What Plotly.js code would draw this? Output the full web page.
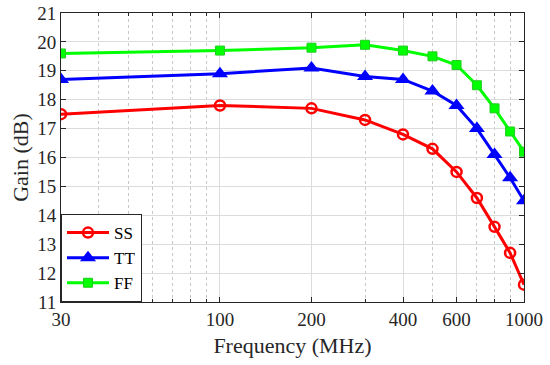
<!DOCTYPE html>
<html>
<head>
<meta charset="utf-8">
<script src="https://cdn.plot.ly/plotly-3.0.1.min.js"></script>
<style>html,body{margin:0;padding:0;background:#fff;}#chart{width:550px;height:365px;}</style>
</head>
<body>
<div id="chart"></div>
<script>
var freq = [30, 100, 200, 300, 400, 500, 600, 700, 800, 900, 1000];
var gainSS = [17.5, 17.8, 17.7, 17.3, 16.8, 16.3, 15.5, 14.6, 13.6, 12.7, 11.6];
var gainTT = [18.7, 18.9, 19.1, 18.8, 18.7, 18.3, 17.8, 17.0, 16.1, 15.3, 14.5];
var gainFF = [19.6, 19.7, 19.8, 19.9, 19.7, 19.5, 19.2, 18.5, 17.7, 16.9, 16.2];
var xTicks = [30, 100, 200, 400, 600, 1000];
var xMinor = [40, 50, 60, 70, 80, 90, 300, 500, 700, 800, 900];
var yTicks = [11, 12, 13, 14, 15, 16, 17, 18, 19, 20, 21];

var font = "'Liberation Serif', 'Times New Roman', serif";
var traces = [
  {x: freq, y: gainSS, name: 'SS', mode: 'lines+markers', type: 'scatter',
   line: {color: '#ff0000', width: 3},
   marker: {symbol: 'circle-open', size: 10, color: '#ff0000', line: {width: 2.5, color: '#ff0000'}}},
  {x: freq, y: gainTT, name: 'TT', mode: 'lines+markers', type: 'scatter',
   line: {color: '#0000ff', width: 3},
   marker: {symbol: 'triangle-up', size: 14, color: '#0000ff'}},
  {x: freq, y: gainFF, name: 'FF', mode: 'lines+markers', type: 'scatter',
   line: {color: '#00ff00', width: 3},
   marker: {symbol: 'square', size: 9, color: '#00ff00', line: {width: 1, color: '#22cc22'}}}
];
var layout = {
  width: 550, height: 365,
  margin: {l: 61, r: 26, t: 13, b: 63},
  paper_bgcolor: '#fff', plot_bgcolor: '#fff',
  font: {family: font, size: 18, color: '#262626'},
  showlegend: true,
  legend: {x: 0, y: 0, xanchor: 'left', yanchor: 'bottom', bgcolor: '#fff',
           bordercolor: '#262626', borderwidth: 1, font: {family: font, size: 17, color: '#000'},
           tracegroupgap: 0, itemwidth: 42},
  xaxis: {
    type: 'log', range: [Math.log10(30), 3],
    tickmode: 'array', tickvals: xTicks, ticktext: xTicks.map(String),
    ticks: 'inside', ticklen: 5, tickcolor: '#262626',
    showline: true, linecolor: '#262626', linewidth: 1, mirror: 'ticks',
    showgrid: true, gridcolor: '#dcdcdc', gridwidth: 1,
    minor: {tickmode: 'array', tickvals: xMinor, showgrid: true, griddash: 'dot',
            gridcolor: '#c8c8c8', gridwidth: 1, ticks: 'inside', ticklen: 3, tickcolor: '#262626'},
    zeroline: false,
    tickfont: {family: font, size: 19, color: '#262626'},
    title: {text: 'Frequency (MHz)', font: {family: font, size: 22, color: '#262626'}, standoff: 8}
  },
  yaxis: {
    range: [11, 21], tickmode: 'array', tickvals: yTicks,
    ticks: 'inside', ticklen: 5, tickcolor: '#262626',
    showline: true, linecolor: '#262626', linewidth: 1, mirror: 'ticks',
    showgrid: true, gridcolor: '#dcdcdc', gridwidth: 1, zeroline: false,
    tickfont: {family: font, size: 19, color: '#262626'},
    title: {text: 'Gain (dB)', font: {family: font, size: 22, color: '#262626'}, standoff: 2}
  }
};
Plotly.newPlot('chart', traces, layout, {displayModeBar: false, staticPlot: true});
</script>
</body>
</html>
